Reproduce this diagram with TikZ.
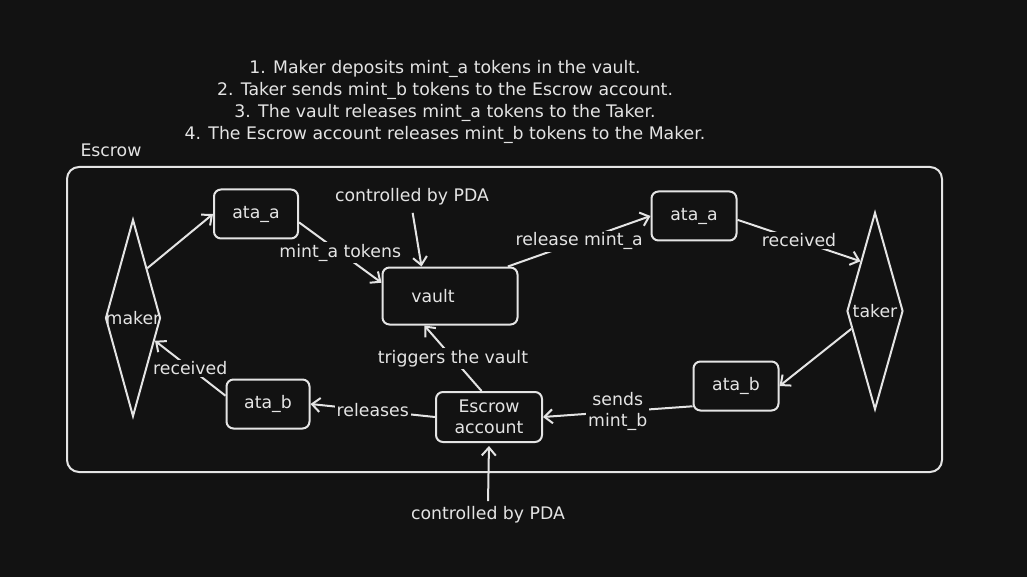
\documentclass[tikz,border=0pt]{standalone}
\usepackage{fontspec}
\setmainfont{DejaVu Sans}
\usetikzlibrary{shapes.geometric,arrows.meta}
\definecolor{bg}{HTML}{121212}
\definecolor{fg}{HTML}{E4E4E4}
\begin{document}
\begin{tikzpicture}[x=1pt,y=-1pt,
  every node/.style={text=fg, font=\fontsize{17.3}{21}\selectfont},
  box/.style={draw=fg, line width=2pt, rounded corners=7pt, inner sep=0pt},
  gem/.style={draw=fg, line width=2pt, diamond, inner sep=0pt, aspect=0.28},
  conn/.style={draw=fg, line width=2pt, -{Straight Barb[length=8pt,width=14pt]}},
  lbl/.style={fill=bg, inner sep=2pt},
]
\fill[bg] (0,0) rectangle (1027,577);
\useasboundingbox (0,0) rectangle (1027,577);

\node[align=center, font=\fontsize{17.3}{22}\selectfont] (title) at (445,102)
  {1. Maker deposits mint\_a tokens in the vault.\\
   2. Taker sends mint\_b tokens to the Escrow account.\\
   3. The vault releases mint\_a tokens to the Taker.\\
   4. The Escrow account releases mint\_b tokens to the Maker.};

\node[box, rounded corners=12pt, minimum width=875, minimum height=305] (frame) at (504.5,319.5) {};
\node[anchor=west] (escrowlbl) at (77,150) {Escrow};

\node[gem, minimum width=55, minimum height=197, label={center:maker}] (maker) at (133,318) {};
\node[gem, minimum width=56, minimum height=197, label={center:taker}] (taker) at (875,311) {};

\node[box, minimum width=84, minimum height=49] (ataA) at (256,214) {ata\_a};
\node[box, minimum width=135, minimum height=57, label={[xshift=-17pt]center:vault}] (vault) at (450,296) {};
\node[box, minimum width=85, minimum height=49] (ataR) at (694,216) {ata\_a};
\node[box, minimum width=85, minimum height=49] (ataB) at (736,386) {ata\_b};
\node[box, minimum width=83, minimum height=49] (ataBL) at (268,404) {ata\_b};
\node[box, minimum width=106, minimum height=50, align=center] (escrowAcc) at (489,417) {Escrow\\account};

\node (ctrlTop) at (412,197) {controlled by PDA};
\node (ctrlBot) at (488,515) {controlled by PDA};

\draw[conn] (maker.north east) -- (ataA.west);
\draw[conn] (ataA.-11) -- node[lbl]{mint\_a tokens} (vault.169);
\draw[conn, shorten <=4pt] (ctrlTop.south) -- (vault.134);
\draw[conn] (vault.27) -- node[lbl]{release mint\_a} (ataR.west);
\draw[conn] (ataR.-5) -- node[lbl]{received} (taker.north west);
\draw[conn] (taker.217) -- (ataB.east);
\draw[conn] (ataB.205) -- node[lbl, align=center]{sends\\mint\_b} (escrowAcc.east);
\draw[conn] (escrowAcc.west) -- node[lbl]{releases} (ataBL.east);
\draw[conn] (ataBL.169) -- node[lbl]{received} (maker.-46);
\draw[conn] (escrowAcc.106) -- node[lbl]{triggers the vault} (vault.229);
\draw[conn, shorten <=2pt, shorten >=3pt] (ctrlBot.north) -- (escrowAcc.south);
\end{tikzpicture}
\end{document}
